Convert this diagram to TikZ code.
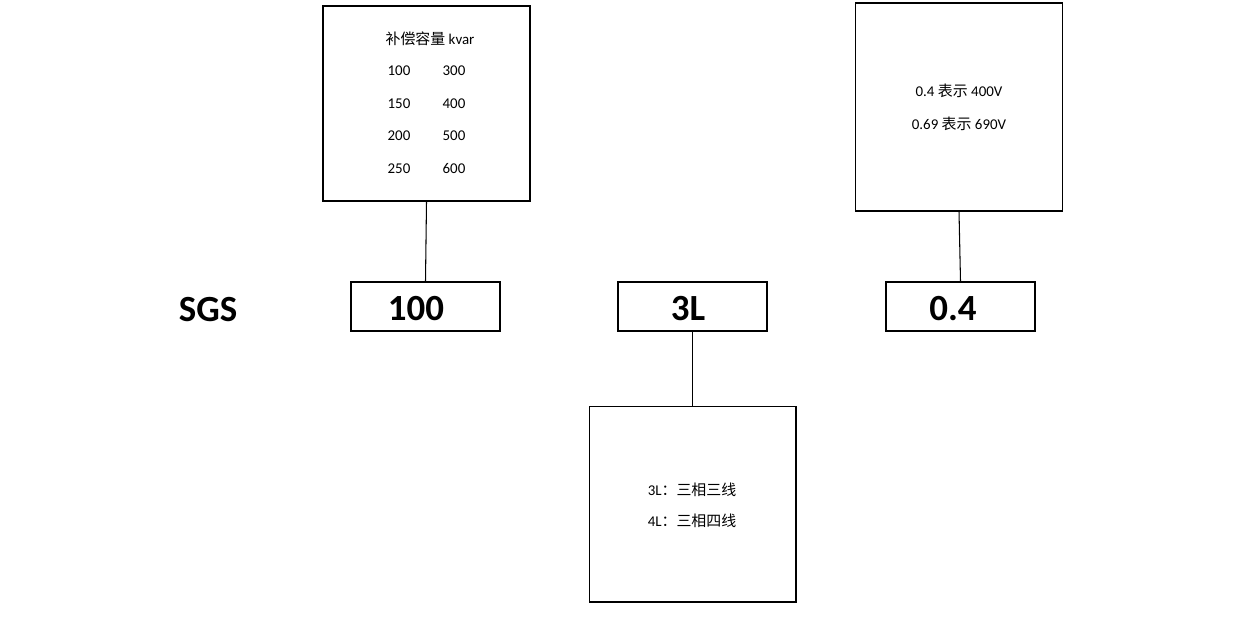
\documentclass[tikz,border=0pt]{standalone}
\usepackage{fontspec}
\setmainfont{Carlito}
\newfontfamily\cjk{Noto Sans CJK SC}
\usetikzlibrary{positioning, calc}
\tikzset{
  codebox/.style={draw, line width=0.9pt, minimum width=2.98cm, minimum height=0.98cm},
  codetext/.style={font=\fontsize{21}{24}\selectfont\bfseries},
  notebox/.style={draw, line width=0.6pt, minimum width=4.14cm},
  note/.style={font=\fontsize{8.5}{10}\selectfont},
  link/.style={line width=0.6pt}
}
\begin{document}
\begin{tikzpicture}[x=0.02cm, y=-0.02cm]
    \useasboundingbox (0,0) rectangle (1240,616);

    %Code boxes
    \node[codetext] (sgs) at (208,310) {SGS};
    \node[codebox] (cap) at (425.5,306.5) {};
    \node[codebox] (wire) at (692.5,306.5) {};
    \node[codebox] (volt) at (960.5,306.5) {};
    \node[codetext] at (416,309) {100};
    \node[codetext] at (688,309) {3L};
    \node[codetext] at (953,309) {0.4};

    %Note boxes
    \node[notebox, minimum height=3.9cm] (capnote) at (426.5,103.5) {};
    \node[notebox, minimum height=4.16cm] (voltnote) at (959,107) {};
    \node[notebox, minimum height=3.92cm] (wirenote) at (692.5,504) {};

    %Note texts
    \node[note] (capt) at (430,39) {{\cjk 补偿容量} kvar};
    \foreach \a/\b/\y in {100/300/71, 150/400/104, 200/500/136, 250/600/169} {
        \node[note] at (399,\y) {\a};
        \node[note] at (454,\y) {\b};
    }
    \node[note] (v1) at (959,91) {0.4 {\cjk 表示} 400V};
    \node[note] (v2) at (959,124) {0.69 {\cjk 表示} 690V};
    \node[note] (w1) at (692,490) {3L{\cjk ：三相三线}};
    \node[note] (w2) at (692,521) {4L{\cjk ：三相四线}};

    %Lines
    \draw[link] (cap.north) -- (capnote.south);
    \draw[link] (wire.south) -- (wirenote.north);
    \draw[link] (volt.north) -- (voltnote.south);
\end{tikzpicture}
\end{document}
